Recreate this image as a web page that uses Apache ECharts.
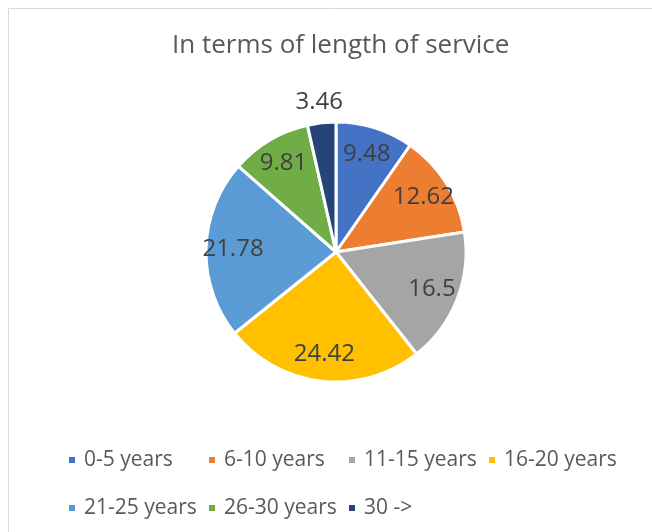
<!DOCTYPE html>
<html>
<head>
<meta charset="utf-8">
<script src="https://cdn.jsdelivr.net/npm/echarts@6/dist/echarts.min.js"></script>
<style>html,body{margin:0;padding:0;background:#fff}#c{width:652px;height:532px}</style>
</head>
<body>
<div id="c"></div>
<script>
const categories = ['0-5 years', '6-10 years', '11-15 years', '16-20 years', '21-25 years', '26-30 years', '30 ->'];
const values = [9.48, 12.62, 16.5, 24.42, 21.78, 9.81, 3.46];
const colors = ['#4472C4', '#ED7D31', '#A5A5A5', '#FFC000', '#5B9BD5', '#70AD47', '#264478'];
const titleText = 'In terms of length of service';
// legend layout (marker left x, row top y)
const legendPos = [[67, 448], [207, 448], [347, 448], [487, 448], [67, 496], [207, 496], [347, 496]];
// slices whose label sits outside the pie
const outsideLabels = ['30 ->'];

const FONT = 'Open Sans';
const center = [336, 252];
const R = 130;

const data = categories.map((c, i) => ({ name: c, value: values[i], itemStyle: { color: colors[i] } }));

const legends = categories.map((c, i) => ({
  data: [c],
  left: legendPos[i][0],
  top: legendPos[i][1],
  orient: 'horizontal',
  icon: 'rect',
  itemWidth: 8,
  itemHeight: 8,
  itemGap: 0,
  padding: 0,
  textStyle: { fontFamily: FONT, fontSize: 21, lineHeight: 24, color: '#595959', padding: [0, 0, 0, 3] },
  selectedMode: false
}));

const labelStyle = { fontFamily: FONT, fontSize: 24, color: '#404040' };

const option = {
  backgroundColor: '#fff',
  animation: false,
  title: {
    text: titleText,
    left: 167,
    top: 28,
    textStyle: { fontFamily: FONT, fontSize: 26, fontWeight: 'normal', color: '#595959' }
  },
  legend: legends,
  graphic: [{
    type: 'rect',
    shape: { x: 8.5, y: 8.5, width: 800, height: 700 },
    style: { fill: 'none', stroke: '#d9d9d9', lineWidth: 1 },
    silent: true
  }],
  series: [
    {
      type: 'pie',
      center: center,
      radius: [0, R],
      startAngle: 90,
      clockwise: true,
      data: data,
      itemStyle: { borderColor: '#fff', borderWidth: 3 },
      label: { show: false },
      labelLine: { show: false },
      silent: true
    },
    {
      type: 'pie',
      center: center,
      radius: [70, R],
      startAngle: 90,
      clockwise: true,
      data: data.map(d => ({ name: d.name, value: d.value, itemStyle: { color: 'transparent' },
        label: { show: outsideLabels.indexOf(d.name) < 0 } })),
      itemStyle: { borderWidth: 0 },
      label: Object.assign({ show: true, position: 'inside', formatter: p => String(p.value) }, labelStyle),
      labelLine: { show: false },
      silent: true,
      z: 3
    },
    {
      type: 'pie',
      center: center,
      radius: [R, 166],
      startAngle: 90,
      clockwise: true,
      data: data.map(d => ({ name: d.name, value: d.value, itemStyle: { color: 'transparent' },
        label: { show: outsideLabels.indexOf(d.name) >= 0 } })),
      itemStyle: { borderWidth: 0 },
      label: Object.assign({ show: true, position: 'inside', formatter: p => String(p.value) }, labelStyle),
      labelLine: { show: false },
      silent: true,
      z: 3
    }
  ]
};

const chart = echarts.init(document.getElementById('c'), null, { renderer: 'canvas' });
chart.setOption(option);
</script>
</body>
</html>
